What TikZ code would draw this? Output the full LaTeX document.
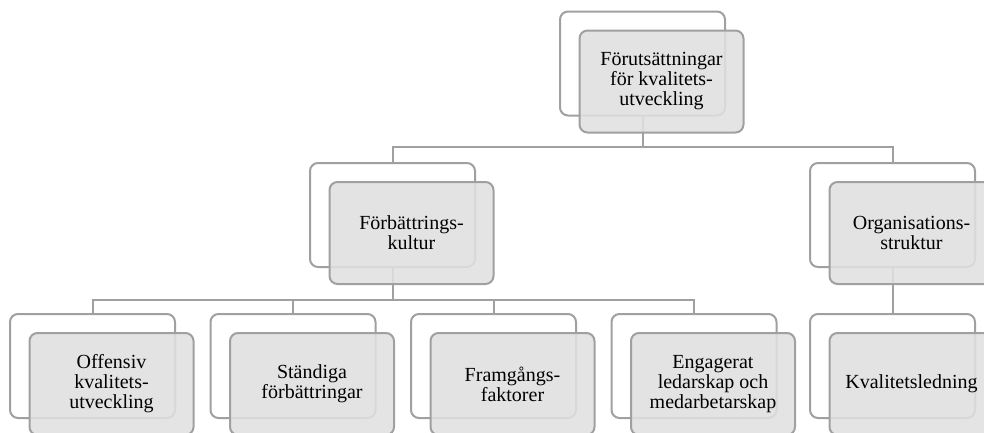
\documentclass[tikz,border=0pt]{standalone}
\usepackage{fontspec}
\setmainfont{Liberation Serif}
\begin{document}
\begin{tikzpicture}[x=1pt,y=-1pt,line width=2pt]
  \definecolor{frame}{HTML}{A0A0A0}
  \definecolor{boxfill}{HTML}{E0E0E0}
  \tikzstyle{backframe}=[draw=frame,fill=white,rounded corners=8pt,minimum width=165pt,minimum height=104pt]
  \tikzstyle{unit}=[draw=frame,fill=boxfill,fill opacity=0.88,text opacity=1,rounded corners=8pt,minimum width=164pt,minimum height=102pt,align=center,font=\fontsize{20}{20}\selectfont]
  \tikzstyle{link}=[draw=frame]
  \useasboundingbox (0,0) rectangle (984,432);
  \clip (0,0) rectangle (984,432);
  % back frames
  \node[backframe](topb) at (642.5,63.5){};
  \node[backframe](kulturb) at (392.5,215){};
  \node[backframe](orgb) at (892.5,215){};
  \node[backframe](offb) at (92.5,366){};
  \node[backframe](standb) at (293,366){};
  \node[backframe](framb) at (493.5,366){};
  \node[backframe](engb) at (694,366){};
  \node[backframe](kvalb) at (892.5,366){};
  % connectors
  \draw[link] (topb.south) -- ++(0,30) -| (kulturb.north);
  \draw[link] (topb.south) -- ++(0,30) -| (orgb.north);
  \foreach \c in {offb,standb,framb,engb}
    \draw[link] (kulturb.south) -- ++(0,32) -| (\c.north);
  \draw[link] (orgb.south) -- (kvalb.north);
  % front boxes
  \node[unit](top) at (661.5,81.5){Förutsättningar\\för kvalitets-\\utveckling};
  \node[unit](kultur) at (411.5,233){Förbättrings-\\kultur};
  \node[unit](org) at (911.5,233){Organisations-\\struktur};
  \node[unit](off) at (111.5,384){Offensiv\\kvalitets-\\utveckling};
  \node[unit](stand) at (312,384){Ständiga\\förbättringar};
  \node[unit](fram) at (512.5,384){Framgångs-\\faktorer};
  \node[unit](eng) at (713,384){Engagerat\\ledarskap och\\medarbetarskap};
  \node[unit](kval) at (911.5,384){Kvalitetsledning};
\end{tikzpicture}
\end{document}
